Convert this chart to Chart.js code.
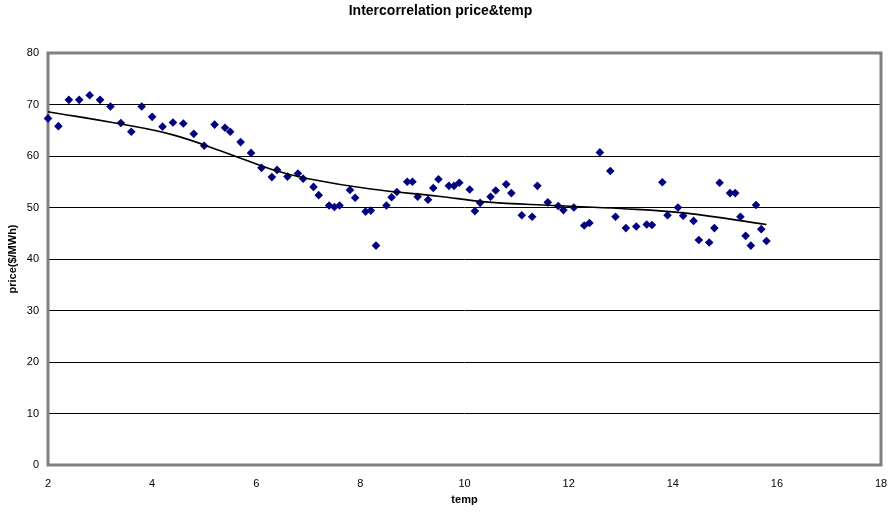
<!DOCTYPE html>
<html>
<head>
<meta charset="utf-8">
<script src="https://cdn.jsdelivr.net/npm/chart.js@4"></script>
<style>
html,body{margin:0;padding:0;background:#fff;}
#wrap{width:896px;height:514px;}
</style>
</head>
<body>
<div id="wrap"><canvas id="c" width="896" height="514"></canvas></div>
<script>
const temp = [2.0,2.2,2.4,2.6,2.8,3.0,3.2,3.4,3.6,3.8,4.0,4.2,4.4,4.6,4.8,5.0,5.2,5.4,5.5,5.7,5.9,6.1,6.3,6.4,6.6,6.8,6.9,7.1,7.2,7.4,7.5,7.6,7.8,7.9,8.1,8.2,8.3,8.5,8.6,8.7,8.9,9.0,9.1,9.3,9.4,9.5,9.7,9.8,9.9,10.1,10.2,10.3,10.5,10.6,10.8,10.9,11.1,11.3,11.4,11.6,11.8,11.9,12.1,12.3,12.4,12.6,12.8,12.9,13.1,13.3,13.5,13.6,13.8,13.9,14.1,14.2,14.4,14.5,14.7,14.8,14.9,15.1,15.2,15.3,15.4,15.5,15.6,15.7,15.8];
const price = [67.3,65.8,70.9,70.9,71.8,70.9,69.6,66.4,64.7,69.6,67.6,65.7,66.5,66.3,64.3,62.0,66.1,65.5,64.7,62.7,60.6,57.7,55.9,57.3,56.0,56.6,55.6,54.0,52.4,50.4,50.1,50.4,53.4,51.9,49.2,49.4,42.6,50.4,52.0,53.0,55.0,55.0,52.1,51.5,53.8,55.5,54.2,54.2,54.8,53.5,49.3,50.9,52.1,53.3,54.5,52.8,48.5,48.2,54.2,51.0,50.3,49.5,50.0,46.5,47.0,60.7,57.1,48.2,46.0,46.3,46.7,46.6,54.9,48.5,50.0,48.4,47.4,43.7,43.2,46.0,54.8,52.8,52.8,48.2,44.5,42.6,50.5,45.8,43.5];
// trendline values
const trendTemp  = [2.0, 3.4, 4.4, 5.4, 6.3, 7.0, 8.2, 9.5, 10.4, 11.7, 13.0, 14.25, 15.8];
const trendPrice = [68.6, 66.2, 64.1, 60.7, 57.4, 55.6, 53.6, 52.2, 51.1, 50.4, 49.8, 48.9, 46.7];
const xTicks = [2,4,6,8,10,12,14,16,18];
const yTicks = [0,10,20,30,40,50,60,70,80];
const chartTitle = 'Intercorrelation price&temp';
const xTitle = 'temp';
const yTitle = 'price($/MWh)';

const frame = {
  id:'frame',
  beforeDatasetsDraw(chart){
    const {ctx, chartArea:a} = chart;
    ctx.save();
    ctx.strokeStyle='#808080';
    ctx.lineWidth=3;
    ctx.strokeRect(a.left, a.top, a.right-a.left, a.bottom-a.top);
    ctx.restore();
  }
};

const FONT = 'Liberation Sans, Arial, sans-serif';

new Chart(document.getElementById('c'), {
  type:'scatter',
  data:{
    datasets:[
      {
        type:'line',
        data:trendTemp.map((x,i)=>({x:x,y:trendPrice[i]})),
        borderColor:'#000000',
        borderWidth:1.6,
        pointRadius:0,
        fill:false,
        tension:0.4,
        order:0
      },
      {
        data:temp.map((x,i)=>({x:x,y:price[i]})),
        pointStyle:'rectRot',
        pointRadius:4.3,
        pointBackgroundColor:'#000080',
        pointBorderColor:'#000080',
        pointBorderWidth:0,
        clip:false,
        order:1
      }
    ]
  },
  plugins:[frame],
  options:{
    responsive:false,
    animation:false,
    devicePixelRatio:1,
    layout:{padding:{left:0,right:15,top:0,bottom:0}},
    plugins:{
      legend:{display:false},
      tooltip:{enabled:false},
      title:{
        display:true,
        text:chartTitle,
        color:'#000',
        font:{family:FONT,size:14,weight:'bold'},
        padding:{top:3,bottom:33.2}
      }
    },
    scales:{
      x:{
        type:'linear',
        min:2,max:18,
        afterBuildTicks(s){ s.ticks = xTicks.map(v=>({value:v})); },
        afterFit(s){ s.height = 49; s.paddingLeft = 0; s.paddingRight = 0; },
        grid:{display:false, drawTicks:false},
        border:{display:false},
        ticks:{color:'#000',padding:12,maxRotation:0,font:{family:FONT,size:11}},
        title:{display:true,text:xTitle,color:'#000',font:{family:FONT,size:11,weight:'bold'},padding:{top:0,bottom:7.4}}
      },
      y:{
        type:'linear',
        min:0,max:80,
        afterBuildTicks(s){ s.ticks = yTicks.map(v=>({value:v})); },
        afterFit(s){ s.width = 48; s.paddingTop = 0; s.paddingBottom = 0; },
        grid:{color:'#000000',lineWidth:1,drawTicks:false},
        border:{display:false},
        ticks:{color:'#000',padding:9,font:{family:FONT,size:11}},
        title:{display:true,text:yTitle,color:'#000',font:{family:FONT,size:11,weight:'bold'},padding:{top:6,bottom:0}}
      }
    }
  }
});
</script>
</body>
</html>
